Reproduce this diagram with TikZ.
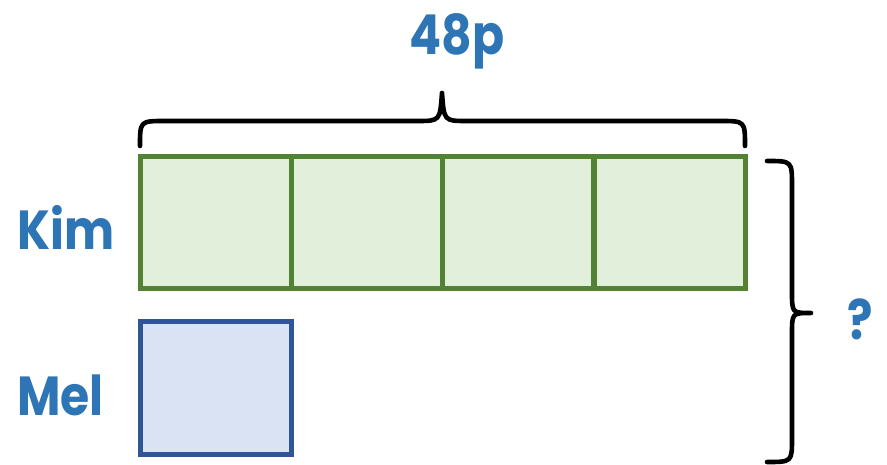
\documentclass[tikz,border=0pt]{standalone}
\usepackage{fontspec}
\setmainfont{Poppins}
\newfontfamily\lblfont{Poppins}[FakeStretch=0.86,UprightFont=* Bold]
\definecolor{kimline}{HTML}{548235}
\definecolor{kimfill}{HTML}{E2EFDA}
\definecolor{melline}{HTML}{2F5597}
\definecolor{melfill}{HTML}{DAE3F3}
\definecolor{lbl}{HTML}{2E75B6}
\begin{document}
\begin{tikzpicture}[x=1pt,y=-1pt,
  kimbox/.style={draw=kimline,fill=kimfill,line width=5pt,minimum width=151pt,minimum height=132pt,inner sep=0pt,outer sep=0pt},
  melbox/.style={draw=melline,fill=melfill,line width=5pt,minimum width=151pt,minimum height=132pt,inner sep=0pt,outer sep=0pt},
  label/.style={text=lbl,font=\lblfont\fontsize{55}{55}\selectfont,inner sep=0pt},
  brace/.style={draw=black,line width=4.6pt,line cap=round,line join=round}]
\useasboundingbox (0,0) rectangle (887,465);
\node[kimbox] (k1) at (215.5,223) {};
\node[kimbox] (k2) at (366.5,223) {};
\node[kimbox] (k3) at (518,223) {};
\node[kimbox] (k4) at (669.5,223) {};
\node[melbox] (m1) at (216,388) {};
\node[label,anchor=base west] (kim) at (17,250) {Kim};
\node[label,anchor=base west] (mel) at (17,415) {Mel};
\node[label,anchor=base] (tot) at (457,55) {48p};
\node[label,anchor=base] (q) at (860,340) {?};
\draw[brace] (140,146) .. controls (140,121) .. (165,121) -- (417,121)
  .. controls (440,121) .. (442,93) .. controls (444,121) .. (467,121)
  -- (720,121) .. controls (745,121) .. (745,146);
\draw[brace] (767,161) .. controls (792,161) .. (792,186) -- (792,292)
  .. controls (792,313) .. (811,313) .. controls (792,313) .. (792,334)
  -- (792,438) .. controls (792,462) .. (767,462);
\end{tikzpicture}
\end{document}
